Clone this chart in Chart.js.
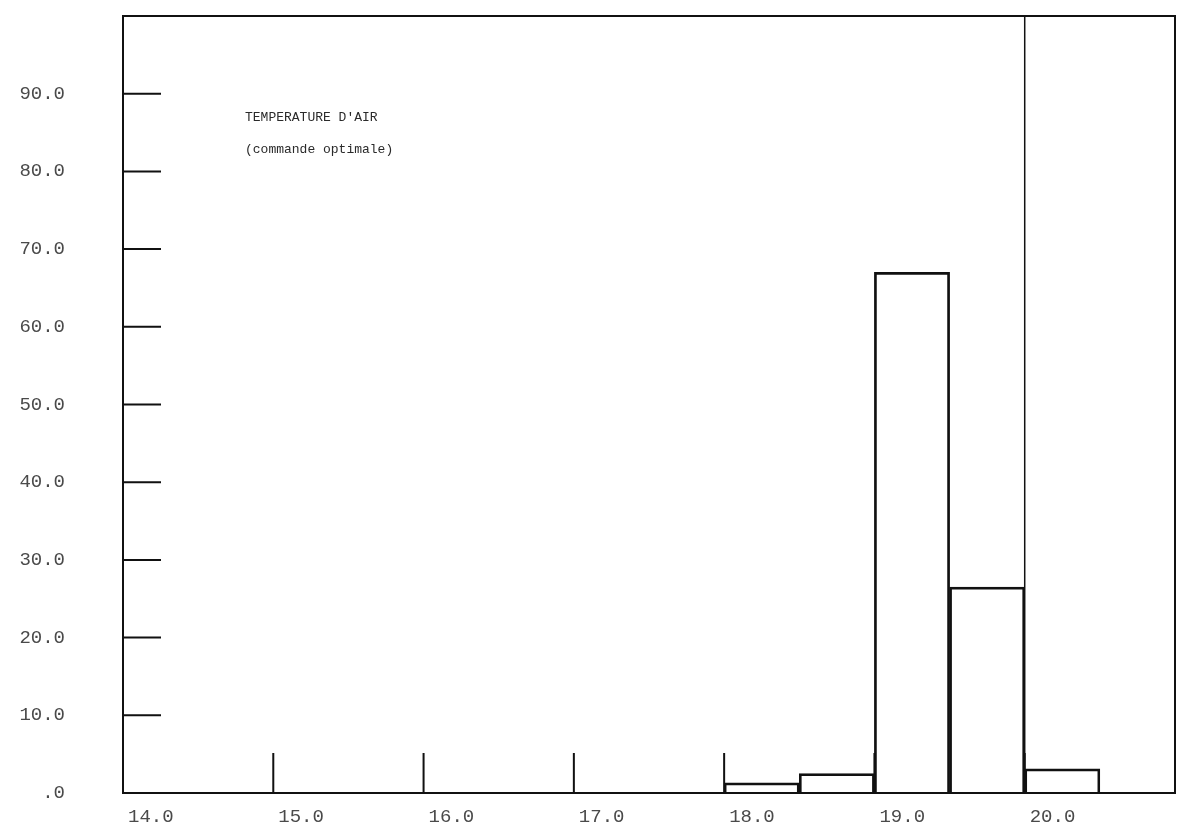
<!DOCTYPE html>
<html>
<head>
<meta charset="utf-8">
<title>Temperature d'air</title>
<script src="https://cdn.jsdelivr.net/npm/chart.js@4.4.1/dist/chart.umd.min.js"></script>
<style>
  html, body { margin: 0; padding: 0; background: #fff; }
  #wrap { width: 1182px; height: 838px; position: relative; }
</style>
</head>
<body>
<div id="wrap"><canvas id="TempChart"></canvas></div>
<script>
// histogram bins (centre of each 0.5 wide class) and frequencies
const binCenters = [18.25, 18.75, 19.25, 19.75, 20.25];
const frequency = [1.3, 2.5, 67.0, 26.5, 3.1];

// consigne line
const setpoint = 20.0;

// axes
const xTicks = [14, 15, 16, 17, 18, 19, 20];
const yTicks = [0, 10, 20, 30, 40, 50, 60, 70, 80, 90];
const xMin = 14, xMax = 21;
const yMin = 0, yMax = 100;

const titleLines = ["TEMPERATURE D'AIR", '(commande optimale)'];

const ink = '#111';
const textGrey = '#4a4a4a';

// frame, inner ticks and the caption
const plotterPlugin = {
  id: 'plotter',
  afterDraw(chart) {
    const ctx = chart.ctx;
    const a = chart.chartArea;
    const x = chart.scales.x;
    const y = chart.scales.y;
    ctx.save();
    ctx.strokeStyle = ink;
    ctx.lineWidth = 2;
    ctx.strokeRect(a.left, a.top, a.right - a.left, a.bottom - a.top);

    ctx.beginPath();
    xTicks.slice(1).forEach(v => {
      const px = x.getPixelForValue(v);
      ctx.moveTo(px, a.bottom);
      ctx.lineTo(px, a.bottom - 40);
    });
    yTicks.slice(1).forEach(v => {
      const py = y.getPixelForValue(v);
      ctx.moveTo(a.left, py);
      ctx.lineTo(a.left + 38, py);
    });
    ctx.stroke();

    ctx.fillStyle = '#2a2a2a';
    ctx.font = '13px "Liberation Mono", monospace';
    ctx.textBaseline = 'middle';
    ctx.textAlign = 'left';
    ctx.fillText(titleLines[0], a.left + 122, a.top + 102);
    ctx.fillText(titleLines[1], a.left + 122, a.top + 134);
    ctx.restore();
  }
};

const TempData = {
  datasets: [{
    type: 'bar',
    label: 'frequence',
    data: binCenters.map((c, i) => ({ x: c, y: frequency[i] })),
    backgroundColor: 'rgba(255,255,255,0)',
    borderColor: ink,
    borderWidth: 2,
    borderSkipped: 'bottom',
    barPercentage: 1,
    categoryPercentage: 1
  }, {
    type: 'line',
    label: 'consigne',
    data: [{ x: setpoint, y: yMin }, { x: setpoint, y: yMax }],
    borderColor: ink,
    borderWidth: 1.5,
    pointRadius: 0
  }]
};

const TempConfig = {
  type: 'bar',
  data: TempData,
  plugins: [plotterPlugin],
  options: {
    responsive: true,
    maintainAspectRatio: false,
    animation: false,
    layout: { padding: { top: 16, right: 7, left: 0, bottom: 0 } },
    plugins: {
      legend: { display: false },
      tooltip: { enabled: false }
    },
    scales: {
      x: {
        type: 'linear',
        offset: false,
        min: xMin,
        max: xMax,
        afterFit(scale) {
          scale.height = 45;
          scale.paddingLeft = 0;
          scale.paddingRight = 0;
        },
        afterBuildTicks(scale) { scale.ticks = xTicks.map(v => ({ value: v })); },
        grid: { display: false, drawTicks: false, offset: false },
        border: { display: false },
        ticks: {
          padding: 13,
          align: 'start',
          labelOffset: 5,
          maxRotation: 0,
          autoSkip: false,
          color: textGrey,
          font: { family: '"Liberation Mono", monospace', size: 19 },
          callback: v => v.toFixed(1)
        }
      },
      y: {
        min: yMin,
        max: yMax,
        afterFit(scale) {
          scale.width = 123;
          scale.paddingTop = 0;
          scale.paddingBottom = 0;
        },
        afterBuildTicks(scale) { scale.ticks = yTicks.map(v => ({ value: v })); },
        grid: { display: false, drawTicks: false },
        border: { display: false },
        ticks: {
          padding: 58,
          autoSkip: false,
          color: textGrey,
          font: { family: '"Liberation Mono", monospace', size: 19 },
          callback: v => (v === 0 ? '.0' : v.toFixed(1))
        }
      }
    }
  }
};

const TempChart = new Chart(
  document.getElementById('TempChart'),
  TempConfig
);
</script>
</body>
</html>
